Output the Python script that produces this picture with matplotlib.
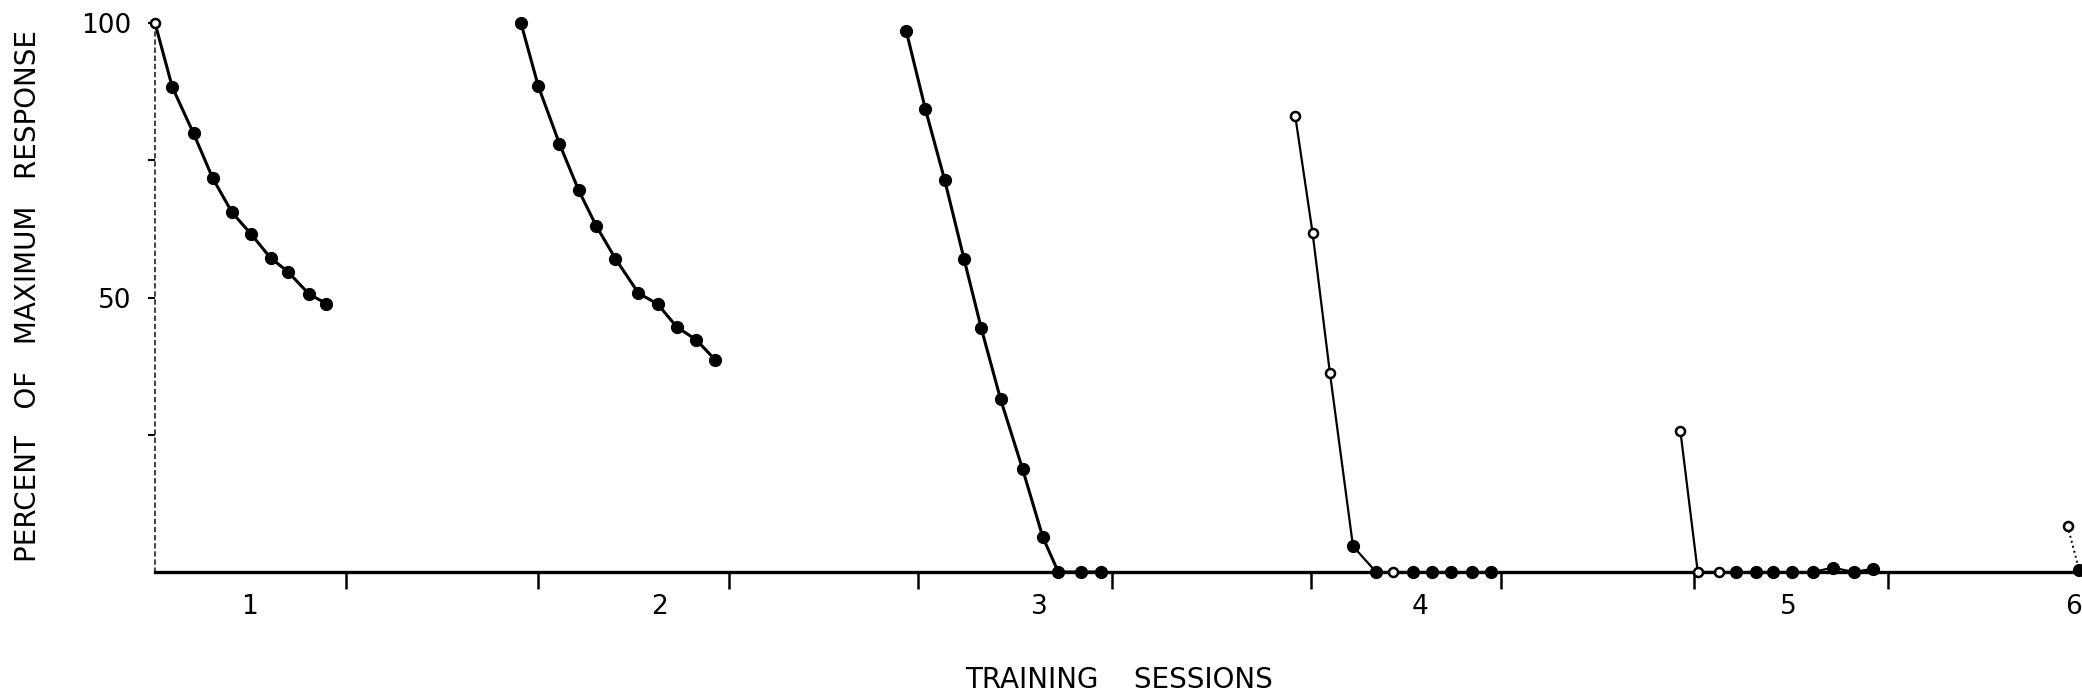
import numpy as np
import matplotlib.pyplot as plt


#####################
# Datos por sesion  #
#####################
# x = posicion del ensayo en el eje, y = % de la respuesta maxima
# abierto = 1 -> circulo vacio, 0 -> circulo lleno

s1_x = [0, 0.9, 2.0, 3.0, 4.0, 5.0, 6.0, 6.9, 8.0, 8.9]
s1_y = [100, 88.3, 79.9, 71.7, 65.5, 61.5, 57.2, 54.7, 50.6, 48.9]
s1_abierto = [1, 0, 0, 0, 0, 0, 0, 0, 0, 0]

s2_x = [19.0, 19.9, 21.0, 22.0, 22.9, 23.9, 25.1, 26.1, 27.1, 28.1, 29.1]
s2_y = [100, 88.5, 78.0, 69.5, 63.1, 57.1, 50.8, 48.8, 44.6, 42.3, 38.6]
s2_abierto = [0, 0, 0, 0, 0, 0, 0, 0, 0, 0, 0]

s3_x = [39.0, 40.0, 41.0, 42.0, 42.9, 43.9, 45.05, 46.1, 46.9, 48.1, 49.1]
s3_y = [98.6, 84.3, 71.4, 57.1, 44.4, 31.5, 18.7, 6.3, 0, 0, 0]
s3_abierto = [0, 0, 0, 0, 0, 0, 0, 0, 0, 0, 0]

s4_x = [59.2, 60.1, 61.0, 62.2, 63.4, 64.3, 65.3, 66.3, 67.3, 68.4, 69.35]
s4_y = [83.1, 61.8, 36.3, 4.7, 0, 0, 0, 0, 0, 0, 0]
s4_abierto = [1, 1, 1, 0, 0, 1, 0, 0, 0, 0, 0]

s5_x = [79.2, 80.1, 81.2, 82.1, 83.1, 84.0, 85.0, 86.1, 87.1, 88.2, 89.2]
s5_y = [25.6, 0, 0, 0, 0, 0, 0, 0, 0.8, 0, 0.6]
s5_abierto = [1, 1, 1, 0, 0, 0, 0, 0, 0, 0, 0]

s6_x = [99.3, 99.9]
s6_y = [8.4, 0.4]
s6_abierto = [1, 0]

# marcas del eje x y rotulos de sesion
ticks_x = [9.9, 19.9, 29.8, 39.6, 49.7, 60.0, 69.9, 79.9, 90.0]
pos_sesiones = [4.9, 26.2, 45.9, 65.7, 84.8, 99.6]
rot_sesiones = ['1', '2', '3', '4', '5', '6']


####################
# Figura           #
####################

fig = plt.figure(figsize=(20.82, 6.98), dpi=100)
ax = fig.add_axes([155/2082, 126/698, 1 - 155/2082, 549/698])

sesiones = [
    (s1_x, s1_y, s1_abierto, 2.2, '-'),
    (s2_x, s2_y, s2_abierto, 2.2, '-'),
    (s3_x, s3_y, s3_abierto, 2.2, '-'),
    (s4_x, s4_y, s4_abierto, 1.6, '-'),
    (s5_x, s5_y, s5_abierto, 1.6, '-'),
    (s6_x, s6_y, s6_abierto, 1.4, ':'),
]

for xs, ys, ab, lw, ls in sesiones:
    xs = np.array(xs)
    ys = np.array(ys)
    ab = np.array(ab, dtype=bool)
    ax.plot(xs, ys, color='black', lw=lw, ls=ls, clip_on=False, zorder=3)
    # circulos llenos
    ax.plot(xs[~ab], ys[~ab], 'o', color='black', ms=8.5, clip_on=False, zorder=4)
    # circulos vacios
    ax.plot(xs[ab], ys[ab], 'o', mfc='white', mec='black', mew=1.8, ms=6.5,
            clip_on=False, zorder=5)

ax.set_xlim(0, 100.05)
ax.set_ylim(0, 100)

# ejes
for lado in ['top', 'right']:
    ax.spines[lado].set_visible(False)
ax.spines['bottom'].set_linewidth(2.4)
ax.spines['left'].set_linewidth(1.3)
ax.spines['left'].set_linestyle((0, (2, 2.5)))
ax.spines['left'].set_color('#333333')

ax.set_xticks(ticks_x)
ax.set_xticklabels([])
ax.tick_params(axis='x', which='major', direction='out', length=12, width=1.8)
ax.set_xticks(pos_sesiones, rot_sesiones, minor=True)
ax.tick_params(axis='x', which='minor', length=0, pad=16, labelsize=19)

ax.set_yticks([50, 100], ['50', '100'])
ax.set_yticks([25, 75], minor=True)
ax.tick_params(axis='y', which='both', direction='out', length=5, width=1.5,
               pad=12, labelsize=19)

fig.text(28/2082, 1 - 296/698, 'PERCENT   OF   MAXIMUM   RESPONSE',
         rotation=90, ha='center', va='center', fontsize=20)
fig.text(1119/2082, 1 - 680/698, 'TRAINING    SESSIONS',
         ha='center', va='center', fontsize=20)

plt.savefig('out.png', dpi=100)
